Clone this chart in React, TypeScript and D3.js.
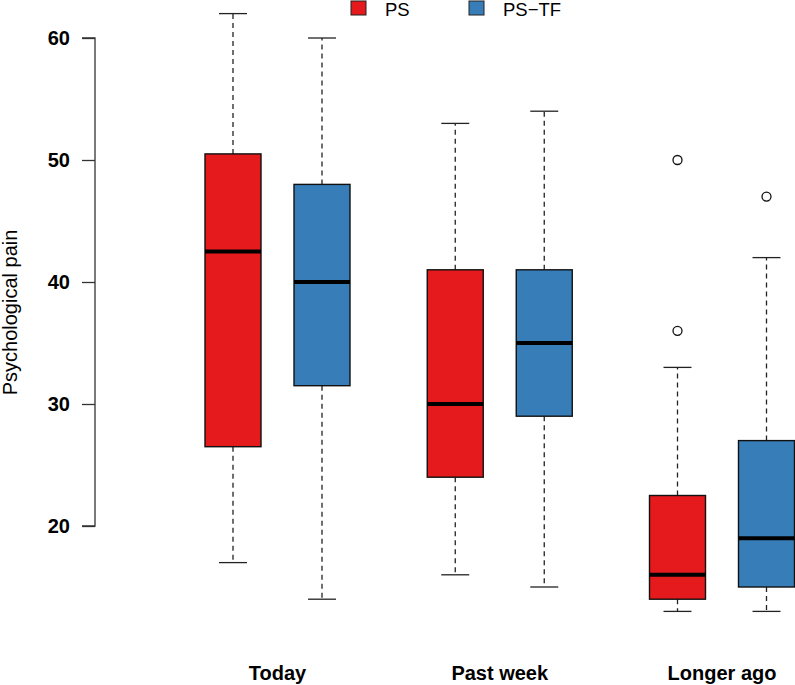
import React, { useEffect, useRef } from 'react';
import * as d3 from 'd3';

// Box plot of psychological pain by time frame and group
const periods = ['Today', 'Past week', 'Longer ago'];
const groups = ['PS', 'PS\u2212TF'];
const groupColors = ['#E41A1C', '#377EB8'];

// [min, q1, median, q3, max] per period, per group
const psStats = [
    [17, 26.5, 42.5, 50.5, 62],
    [16, 24, 30, 41, 53],
    [13, 14, 16, 22.5, 33],
];
const pstfStats = [
    [14, 31.5, 40, 48, 60],
    [15, 29, 35, 41, 54],
    [13, 15, 19, 27, 42],
];
const psOutliers = [[], [], [36, 50]];
const pstfOutliers = [[], [], [47]];

const yTicks = [20, 30, 40, 50, 60];

const W = 795;
const H = 685;
const FONT = 'Liberation Sans, Arial, Helvetica, sans-serif';

const App = () => {
    const svgRef = useRef<SVGSVGElement>(null);

    useEffect(() => {
        const svg = d3.select(svgRef.current);
        svg.selectAll('*').remove();

        const y = d3.scaleLinear().domain([20, 60]).range([526, 38]);
        // period centre and group offset within a period
        const xPeriod = d3.scalePoint().domain(periods).range([277.5, 722]);
        const xGroup = d3.scalePoint().domain(groups).range([-44.5, 44.5]);
        const boxW = 56;
        const capW = 28;

        const stats = [psStats, pstfStats];
        const outs = [psOutliers, pstfOutliers];

        // y axis
        const yAxis = svg.append('g')
            .attr('transform', 'translate(95,0)')
            .call(d3.axisLeft(y).tickValues(yTicks).tickSize(13).tickPadding(12));
        yAxis.select('.domain')
            .attr('stroke', '#333').attr('stroke-width', 1.3)
            .attr('d', `M-13,${y(60)}H0V${y(20)}H-13`);
        yAxis.selectAll('.tick line').attr('stroke', '#333').attr('stroke-width', 1.3);
        yAxis.selectAll('.tick text')
            .attr('fill', '#000')
            .style('font-family', FONT)
            .style('font-size', '20px')
            .style('font-weight', 'bold');

        // y label, centred on the plot region
        svg.append('text')
            .attr('transform', `translate(17,${y(37.5)}) rotate(-90)`)
            .attr('text-anchor', 'middle')
            .style('font-family', FONT)
            .style('font-size', '20px')
            .text('Psychological pain');

        periods.forEach((p, i) => {
            const pc = xPeriod(p)!;
            groups.forEach((g, j) => {
                const c = pc + xGroup(g)!;
                const [mn, q1, med, q3, mx] = stats[j][i];
                const gEl = svg.append('g');
                // whiskers
                [[q3, mx], [q1, mn]].forEach(([a, b]) => {
                    gEl.append('line')
                        .attr('x1', c).attr('x2', c).attr('y1', y(a)).attr('y2', y(b))
                        .attr('stroke', '#222').attr('stroke-width', 1.3)
                        .attr('stroke-dasharray', '5,4');
                });
                [mn, mx].forEach(v => {
                    gEl.append('line')
                        .attr('x1', c - capW / 2).attr('x2', c + capW / 2)
                        .attr('y1', y(v)).attr('y2', y(v))
                        .attr('stroke', '#222').attr('stroke-width', 1.3);
                });
                // box
                gEl.append('rect')
                    .attr('x', c - boxW / 2).attr('width', boxW)
                    .attr('y', y(q3)).attr('height', y(q1) - y(q3))
                    .attr('fill', groupColors[j]).attr('stroke', '#111').attr('stroke-width', 1.4);
                gEl.append('line')
                    .attr('x1', c - boxW / 2).attr('x2', c + boxW / 2)
                    .attr('y1', y(med)).attr('y2', y(med))
                    .attr('stroke', '#000').attr('stroke-width', 4);
                outs[j][i].forEach(v => {
                    gEl.append('circle')
                        .attr('cx', c).attr('cy', y(v)).attr('r', 4.5)
                        .attr('fill', 'none').attr('stroke', '#111').attr('stroke-width', 1.3);
                });
            });
            svg.append('text')
                .attr('x', pc)
                .attr('y', 680)
                .attr('text-anchor', 'middle')
                .style('font-family', FONT)
                .style('font-size', '20px')
                .style('font-weight', 'bold')
                .text(p);
        });

        // legend
        const legendX = [351, 469];
        groups.forEach((g, j) => {
            svg.append('rect')
                .attr('x', legendX[j]).attr('y', 1).attr('width', 15).attr('height', 14)
                .attr('fill', groupColors[j]).attr('stroke', '#222').attr('stroke-width', 1);
            svg.append('text')
                .attr('x', legendX[j] + 34).attr('y', 16)
                .style('font-family', FONT)
                .style('font-size', '18.5px')
                .text(g);
        });
    }, []);

    return (
        <svg ref={svgRef} width={W} height={H}
             style={{ position: 'absolute', left: 0, top: 0, background: '#fff' }} />
    );
};

export default App;
